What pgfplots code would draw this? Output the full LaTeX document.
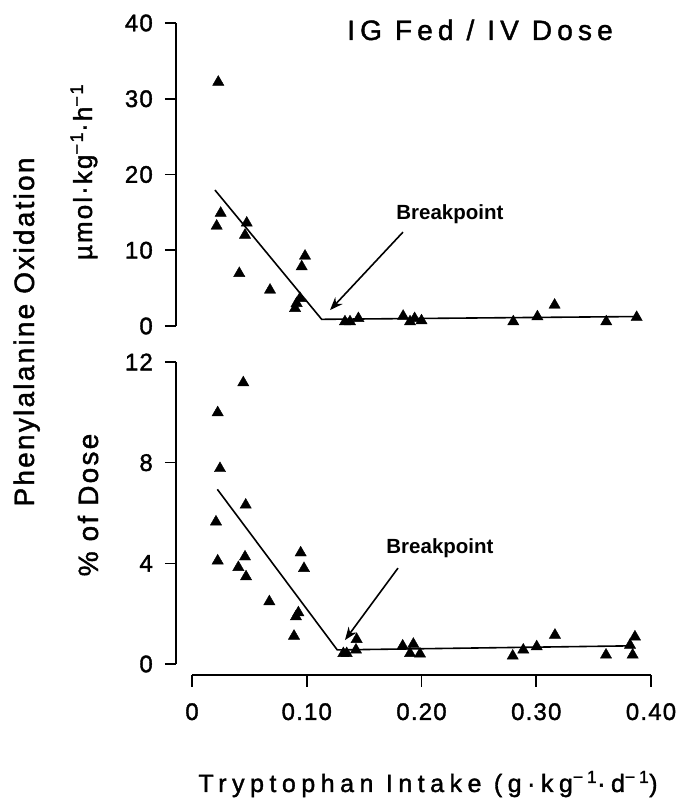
\documentclass[border=0pt]{standalone}
\usepackage{pgfplots}
\usepackage{pgfplotstable}
\pgfplotsset{compat=1.18}
\usetikzlibrary{arrows.meta}
\usepackage{fontspec}
\setmainfont{Liberation Sans}
\newfontfamily\tickfont[LetterSpace=5, FakeBold=1.5]{Liberation Sans}
\newfontfamily\labfont[LetterSpace=8, FakeBold=1.5]{Liberation Sans}
\newfontfamily\widefont[LetterSpace=18.5, FakeBold=1.5]{Liberation Sans}
\newfontfamily\xlabfont[LetterSpace=22, FakeBold=1.5]{Liberation Sans}

% phenylalanine oxidation, umol/kg/h
\pgfplotstableread{
x y
0.0229 32.2
0.0250 14.9
0.0215 13.2
0.0477 13.6
0.0462 12.0
0.0412 6.95
0.0680 4.75
0.0985 9.24
0.0956 7.83
0.0941 3.65
0.0912 2.99
0.0898 2.33
0.1333 0.57
0.1377 0.57
0.1450 1.00
0.1840 1.30
0.1900 0.57
0.1940 1.00
0.2000 0.70
0.2800 0.57
0.3010 1.23
0.3160 2.77
0.3610 0.57
0.3875 1.15
}\oxrate

% phenylalanine oxidation, % of dose
\pgfplotstableread{
x y
0.0447 11.18
0.0224 9.99
0.0244 7.77
0.0468 6.32
0.0209 5.65
0.0224 4.10
0.0462 4.26
0.0404 3.84
0.0471 3.47
0.0674 2.48
0.0947 4.42
0.0976 3.80
0.0927 2.04
0.0906 1.88
0.0889 1.11
0.1319 0.42
0.1348 0.42
0.1435 0.98
0.1429 0.56
0.1836 0.72
0.1929 0.79
0.1900 0.42
0.1987 0.40
0.2795 0.32
0.2887 0.56
0.3004 0.69
0.3163 1.15
0.3608 0.36
0.3860 1.08
0.3817 0.75
0.3840 0.36
}\oxdose

\tikzset{
  arr/.style={black, line width=1.6pt, -{Stealth[length=13pt,width=10pt]}},
  bp/.style={font=\bfseries\fontsize{20.5}{24}\selectfont, anchor=base},
}
\pgfplotsset{
  panel/.style={
    anchor=south west, scale only axis, width=475pt,
    xmin=-0.01394, xmax=0.4,
    axis x line=none, axis y line*=left,
    tick align=outside, major tick length=11pt,
    every tick/.style={black, line width=1.6pt},
    axis line style={line width=2.4pt},
    /pgf/number format/assume math mode=true,
    yticklabel style={font=\tickfont\fontsize{24}{28}\selectfont, anchor=east, inner sep=0pt, xshift=-12pt},
    clip=false,
  },
  pts/.style={only marks, mark=triangle*, mark size=6.5pt, black},
  fit/.style={black, line width=1.6pt, mark=none},
}

\begin{document}
\begin{tikzpicture}[x=1pt,y=1pt]
  % top panel
  \begin{axis}[panel, at={(176pt,480pt)}, height=303pt,
      ymin=0, ymax=40, ytick={0,10,20,30,40}]
    \addplot[pts] table {\oxrate};
    \addplot[fit] coordinates {(0.020,17.95) (0.113,0.88) (0.389,1.25)};
    \draw[arr] (axis cs:0.1839,12.4) -- (axis cs:0.1203,2.1);
    \node[bp] at (axis cs:0.2248,14.0) {Breakpoint};
  \end{axis}
  % bottom panel
  \begin{axis}[panel, at={(176pt,142pt)}, height=302pt,
      ymin=0, ymax=12, ytick={0,4,8,12}]
    \addplot[pts] table {\oxdose};
    \addplot[fit] coordinates {(0.0221,6.94) (0.1266,0.56) (0.380,0.72)};
    \draw[arr] (axis cs:0.1795,3.81) -- (axis cs:0.1333,0.95);
    \node[bp] at (axis cs:0.2161,4.41) {Breakpoint};
  \end{axis}
  % shared x axis
  \begin{axis}[at={(192pt,131pt)}, anchor=south west, scale only axis,
      width=459pt, height=20pt, xmin=0, xmax=0.4, ymin=0, ymax=1,
      axis y line=none, axis x line*=bottom,
      xtick={0,0.1,0.2,0.3,0.4}, xticklabels={0,0.10,0.20,0.30,0.40},
      tick align=outside, major tick length=12pt,
      every tick/.style={black, line width=1.6pt},
      axis line style={line width=2.4pt},
      xticklabel style={font=\tickfont\fontsize{24}{28}\selectfont, anchor=north, inner sep=0pt, yshift=-16pt}]
    \addplot[draw=none] coordinates {(0,0)};
  \end{axis}
  % titles
  \node[anchor=base] at (480,766) {\widefont\fontsize{28}{32}\selectfont IG Fed / IV Dose};
  \node[rotate=90, anchor=base] at (34,474) {\labfont\fontsize{28}{32}\selectfont Phenylalanine Oxidation};
  \node[rotate=90, anchor=base] at (92,634) {\labfont\fontsize{26}{30}\selectfont µmol·kg\textsuperscript{−1}·h\textsuperscript{−1}};
  \node[rotate=90, anchor=base] at (98,301) {\labfont\fontsize{28}{32}\selectfont \% of Dose};
  \node[anchor=base] at (428,14) {\xlabfont\fontsize{25}{30}\selectfont Tryptophan Intake (g·kg\textsuperscript{−1}·d\textsuperscript{−1})};
  \pgfresetboundingbox
  \path (0,0) rectangle (680,806);
\end{tikzpicture}
\end{document}
